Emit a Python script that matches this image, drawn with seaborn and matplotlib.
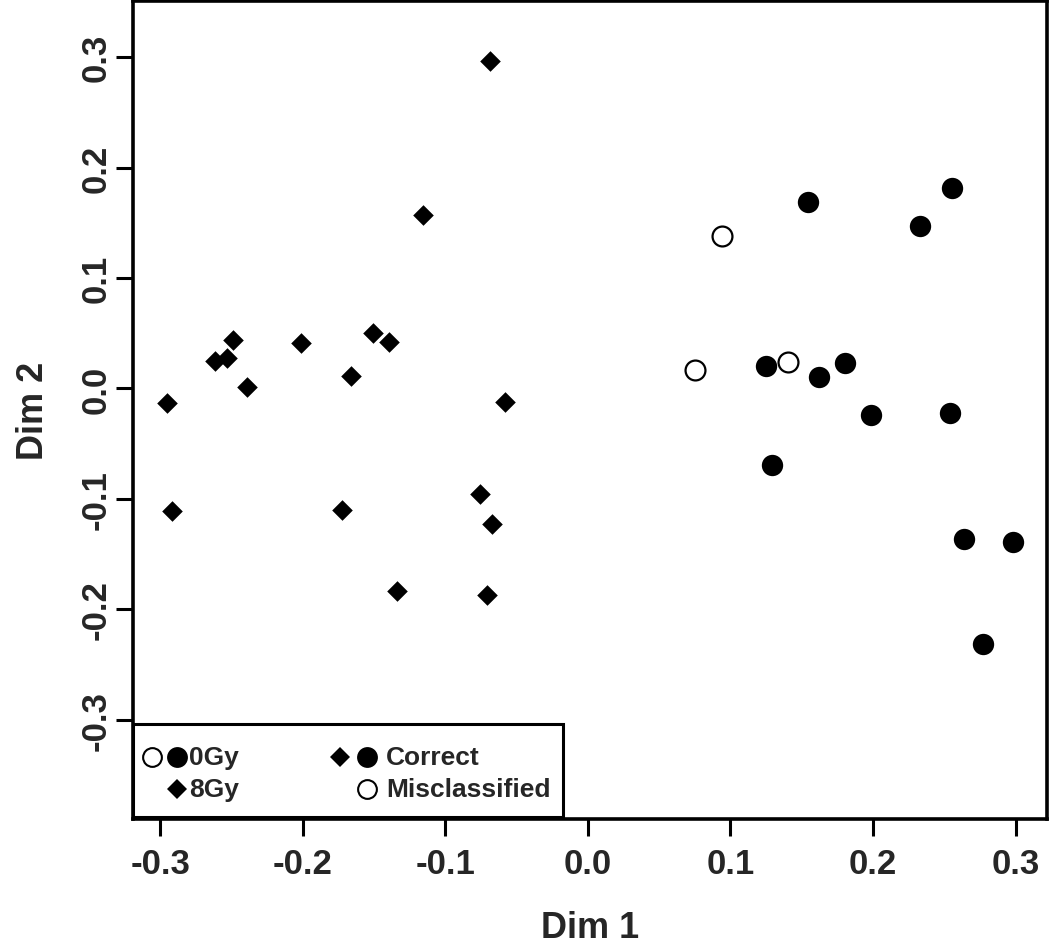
import matplotlib
matplotlib.use("Agg")
import matplotlib.pyplot as plt
import seaborn as sns
import pandas as pd
from matplotlib.lines import Line2D

# 8Gy (diamonds, all correctly classified)
gy8_x = [-0.0684, -0.1157, -0.2952, -0.2919, -0.2614, -0.2530, -0.2490, -0.2390, -0.2015,
         -0.1664, -0.1510, -0.1397, -0.0584, -0.1727, -0.0757, -0.0673, -0.1339, -0.0706]
gy8_y = [0.2966, 0.157, -0.0134, -0.1110, 0.0245, 0.0276, 0.0442, 0.0009, 0.0408,
         0.0116, 0.0503, 0.0419, -0.0120, -0.1104, -0.0958, -0.1227, -0.1837, -0.1873]
# 0Gy correctly classified (filled circles)
gy0c_x = [0.1547, 0.2553, 0.2328, 0.1248, 0.1622, 0.1802, 0.1986, 0.2537, 0.1288, 0.2639, 0.2985, 0.2768]
gy0c_y = [0.1686, 0.1812, 0.1475, 0.0200, 0.0104, 0.0234, -0.0240, -0.0222, -0.0696, -0.1363, -0.1388, -0.2312]
# 0Gy misclassified (open circles)
gy0m_x = [0.0938, 0.0752, 0.1403]
gy0m_y = [0.1380, 0.0170, 0.0240]

x_ticks = [-0.3, -0.2, -0.1, 0.0, 0.1, 0.2, 0.3]
y_ticks = [-0.3, -0.2, -0.1, 0.0, 0.1, 0.2, 0.3]

sns.set_style("white")
plt.rcParams['font.family'] = ['Liberation Sans', 'DejaVu Sans']
plt.rcParams['font.weight'] = 'bold'

fig = plt.figure(figsize=(10.5, 9.53), dpi=100)
ax = fig.add_axes([133/1050, 1-820/953, (1047-133)/1050, (820-2)/953])

d8 = pd.DataFrame({"x": gy8_x, "y": gy8_y})
dc = pd.DataFrame({"x": gy0c_x, "y": gy0c_y})
dm = pd.DataFrame({"x": gy0m_x, "y": gy0m_y})

sns.scatterplot(data=d8, x="x", y="y", marker="D", s=110, color="black", edgecolor="black",
                linewidth=0, ax=ax, zorder=3)
sns.scatterplot(data=dc, x="x", y="y", marker="o", s=236, color="black", edgecolor="black",
                linewidth=0, ax=ax, zorder=3)
sns.scatterplot(data=dm, x="x", y="y", marker="o", s=205, facecolor="white", edgecolor="black",
                linewidth=1.6, ax=ax, zorder=3)

ax.set_xlim(-0.319, 0.322)
ax.set_ylim(-0.390, 0.351)
ax.set_xticks(x_ticks)
ax.set_yticks(y_ticks)
ax.set_xticklabels([f"{v:.1f}" for v in x_ticks], fontsize=25, fontweight='bold')
ax.set_yticklabels([f"{v:.1f}" for v in y_ticks], fontsize=25, fontweight='bold',
                   rotation=90, va='center')
ax.tick_params(axis='both', direction='out', length=12, width=2.2, color='black',
               bottom=True, left=True)
ax.tick_params(axis='x', pad=8)
ax.tick_params(axis='y', pad=3)
for sp in ax.spines.values():
    sp.set_linewidth(2.6)
    sp.set_color('black')
ax.set_xlabel("Dim 1", fontsize=26, fontweight='bold', labelpad=22)
ax.set_ylabel("Dim 2", fontsize=26, fontweight='bold', labelpad=20)

# Legend drawn manually (R-style two-column legend)
def fx(px):
    return (px - 133) / (1047 - 133)
def fy(py):
    return (820 - py) / (820 - 2)

rect = plt.Rectangle((fx(133), fy(818)), fx(563) - fx(133), fy(725) - fy(818),
                     transform=ax.transAxes, facecolor='white', edgecolor='black',
                     linewidth=2.2, zorder=5, clip_on=False)
ax.add_patch(rect)

def lmark(px, py, marker, filled, ms):
    ax.add_line(Line2D([fx(px)], [fy(py)], marker=marker, markersize=ms,
                       markerfacecolor='black' if filled else 'white',
                       markeredgecolor='black', markeredgewidth=0 if filled else 1.5,
                       linestyle='none', transform=ax.transAxes, zorder=6, clip_on=False))

r1, r2 = 758, 790
lmark(152, r1, 'o', False, 13.5)
lmark(177, r1, 'o', True, 15)
lmark(177, r2, 'D', True, 10)
lmark(340, r1, 'D', True, 10)
lmark(367, r1, 'o', True, 15)
lmark(367, r2, 'o', False, 13.5)
for px, py, t in [(189, r1, "0Gy"), (189, r2, "8Gy"), (386, r1, "Correct"), (386, r2, "Misclassified")]:
    ax.text(fx(px), fy(py), t, transform=ax.transAxes, fontsize=19, fontweight='bold',
            va='center', ha='left', zorder=6)

fig.savefig("out.png", dpi=100)
